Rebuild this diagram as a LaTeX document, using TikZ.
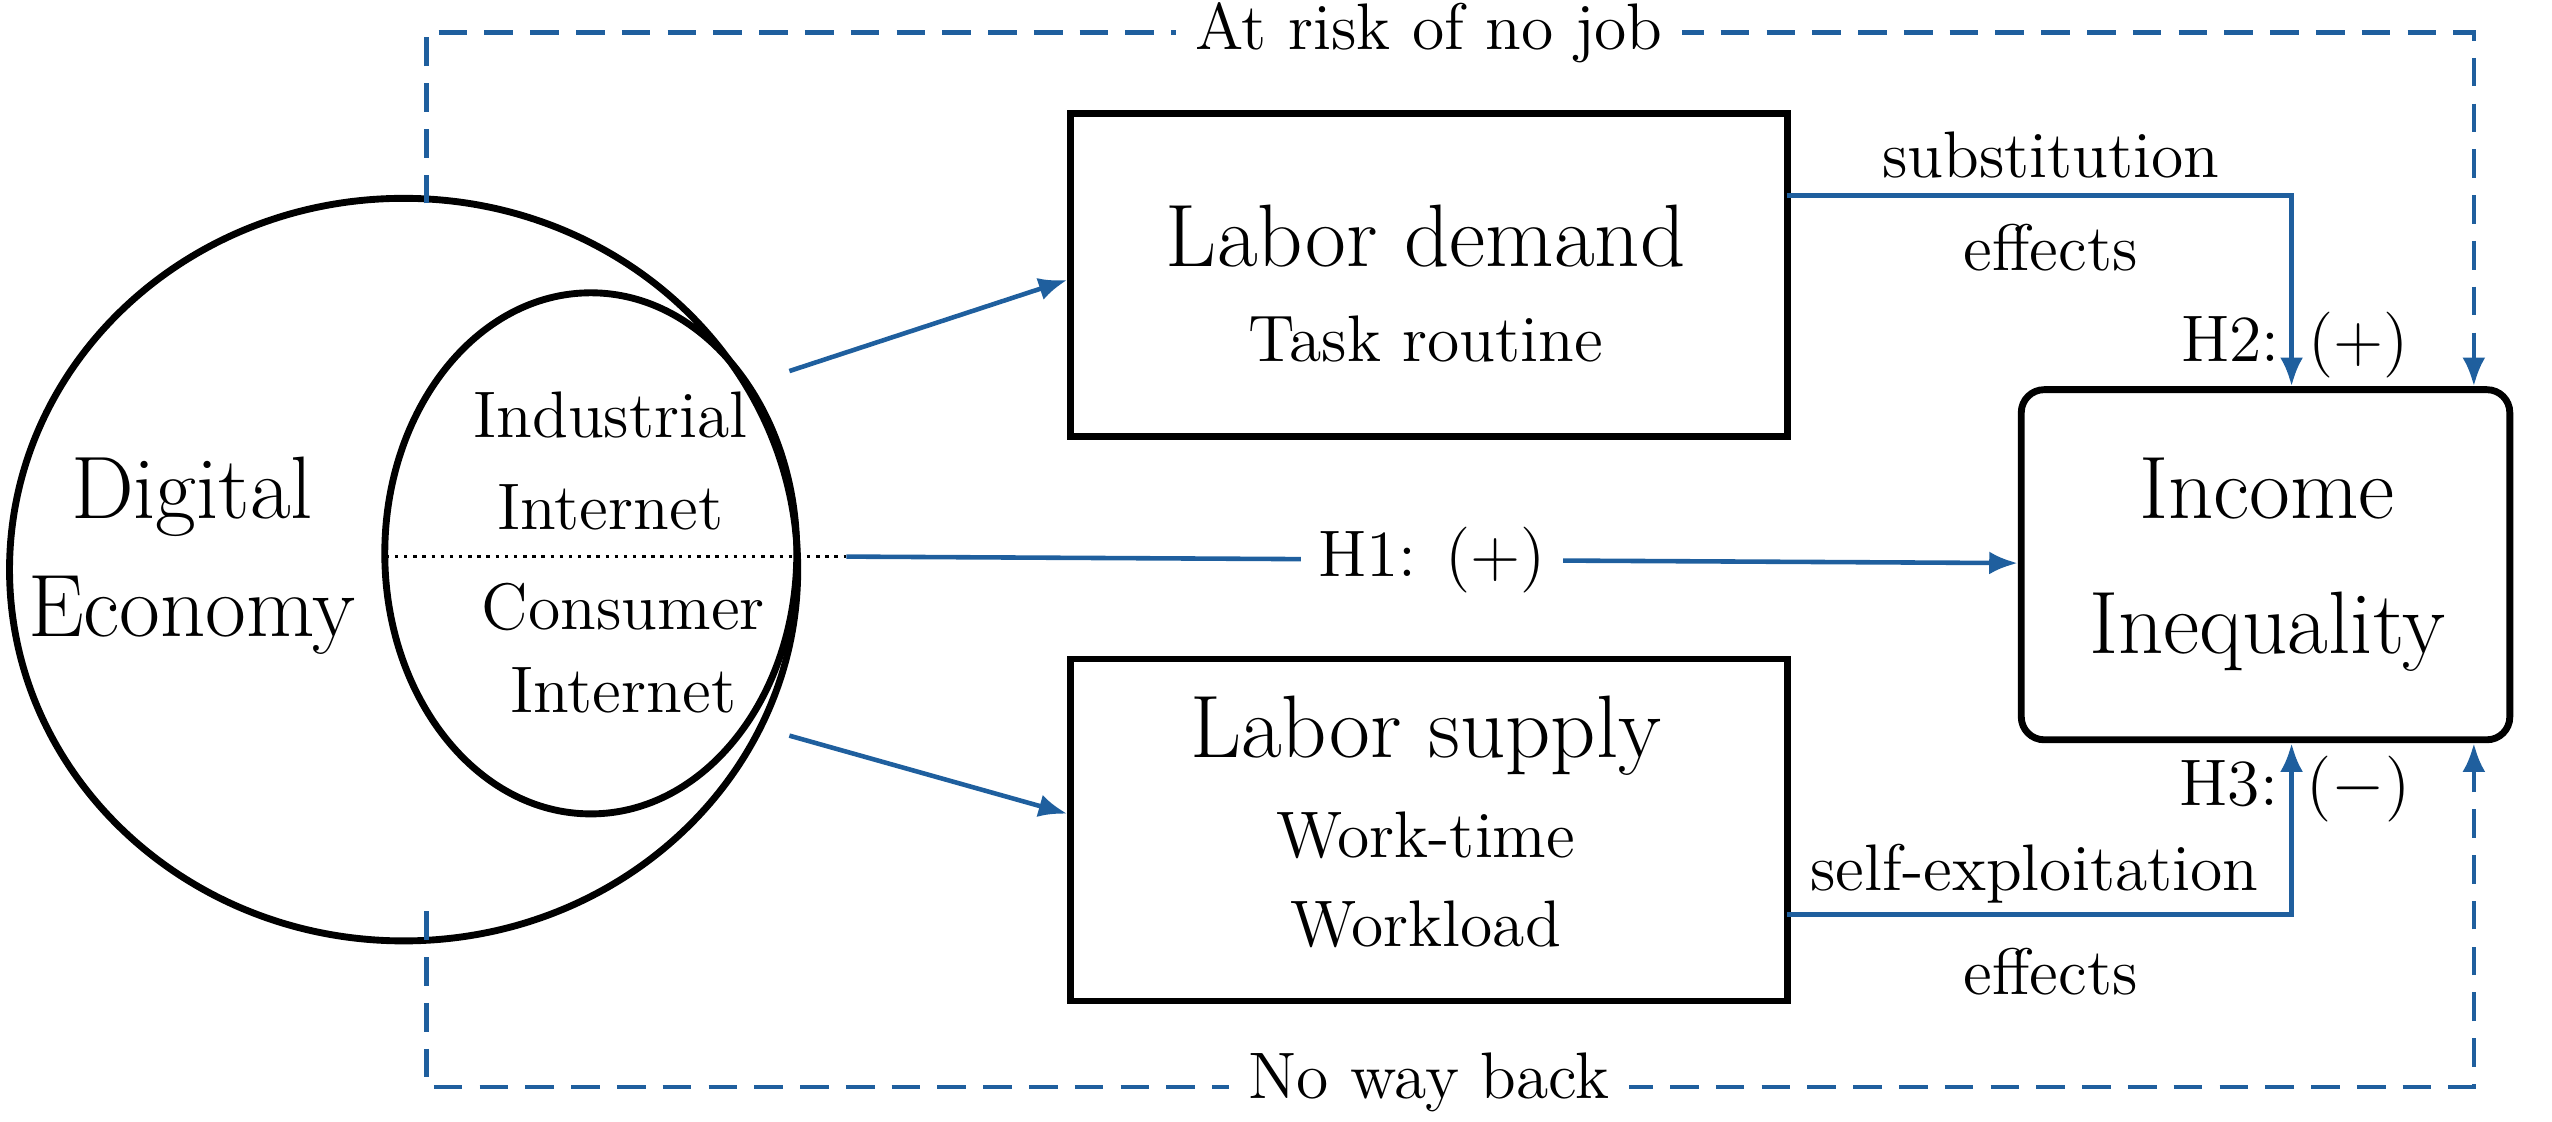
\documentclass[tikz,border=0pt]{standalone}
\usetikzlibrary{arrows.meta,shapes.geometric}
\definecolor{bl}{HTML}{1F5F9E}
\begin{document}
\begin{tikzpicture}[x=0.01cm,y=-0.01cm,
  big/.style={font=\fontsize{15.5}{18}\selectfont},
  med/.style={font=\fontsize{11.5}{14}\selectfont},
  box/.style={draw,line width=1.2pt,minimum width=4.4cm,minimum height=1.98cm, anchor=center, inner sep=0},
  arr/.style={draw=bl,line width=0.8pt,-{Latex[length=5pt,width=4pt]}},
  dsh/.style={arr,dash pattern=on 5pt off 3pt}]
\useasboundingbox (0,0) rectangle (1568,689);
\node[draw,line width=1.2pt,ellipse,minimum width=4.84cm,minimum height=4.56cm,inner sep=0] (de) at (248,350) {};
\node[draw,line width=1.2pt,ellipse,minimum width=2.53cm,minimum height=3.2cm,inner sep=0] (ii) at (363,340) {};
\coordinate (dl) at (237,342); \coordinate (dr) at (520,342);
\draw[line width=0.6pt,densely dotted] (dl) -- (dr);
\node[big] (t1) at (118,305) {Digital};
\node[big] (t2) at (118,378) {Economy};
\node[med] (t3) at (375,255) {Industrial};
\node[med] (t4) at (375,312) {Internet};
\node[med] (t5) at (383,373) {Consumer};
\node[med] (t6) at (383,424) {Internet};
\node[box] (ld) at (878,169) {};
\node[big] (ld1) at (876,145) {Labor demand};
\node[med] (ld2) at (876,208) {Task routine};
\node[box,minimum height=2.1cm] (ls) at (878,510) {};
\node[big] (ls1) at (876,452) {Labor supply};
\node[med] (ls2) at (876,513) {Work-time};
\node[med] (ls3) at (876,568) {Workload};
\node[draw,line width=1.2pt,rounded corners=4pt,minimum width=3cm,minimum height=2.15cm,inner sep=0] (ie) at (1392,347) {};
\node[big] (ie1) at (1393,300) {Income};
\node[big] (ie2) at (1393,388) {Inequality};
\coordinate (a1) at (485,228); \coordinate (a2) at (485,452);
\draw[arr] (a1) -- (ld.west |- 0,172);
\draw[arr] (a2) -- (ls.west |- 0,500);
\draw[arr] (dr) -- node[fill=white,med,inner sep=3pt] (h1) {H1: (+)} (ie.west |- 0,346);
\coordinate (s0) at (1098,120); \coordinate (s1) at (1408,120);
\draw[arr] (s0) -- (s1) -- (ie.north -| s1);
\node[med] (sub1) at (1260,95) {substitution};
\node[med] (sub2) at (1260,152) {effects};
\node[med] (h2) at (1410,212) {H2: (+)};
\coordinate (e0) at (1098,562); \coordinate (e1) at (1408,562);
\draw[arr] (e0) -- (e1) -- (ie.south -| e1);
\node[med] (se1) at (1250,537) {self-exploitation};
\node[med] (se2) at (1260,597) {effects};
\node[med] (h3) at (1410,485) {H3: ($-$)};
\coordinate (p0) at (262,125); \coordinate (p1) at (262,20); \coordinate (p2) at (1520,20);
\draw[dsh] (p0) -- (p1) -- (p2) -- (ie.north -| p2);
\node[med,fill=white] (ar) at (878,20) {At risk of no job};
\coordinate (q0) at (262,560); \coordinate (q1) at (262,668); \coordinate (q2) at (1520,668);
\draw[dsh] (q0) -- (q1) -- (q2) -- (ie.south -| q2);
\node[med,fill=white] (nw) at (878,665) {No way back};
\end{tikzpicture}
\end{document}
